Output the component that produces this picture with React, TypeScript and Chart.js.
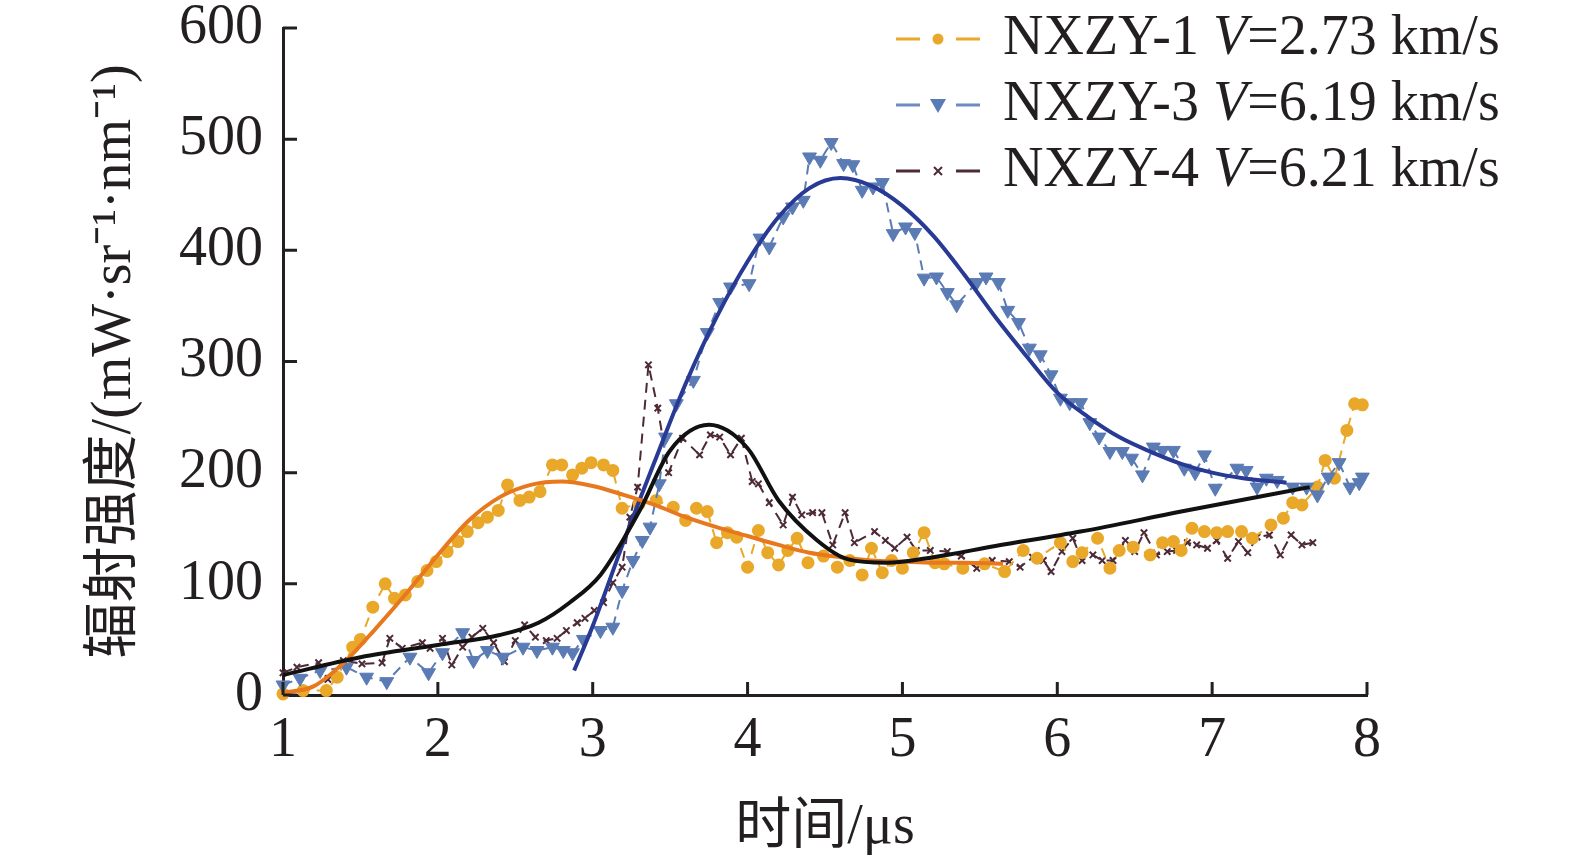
import React, { useRef, useEffect } from "react";
import { Chart, registerables } from "chart.js";

Chart.register(...registerables);

// NXZY-1, V = 2.73 km/s (measured points)
const nxzy1X = [
  1.0, 1.13, 1.28, 1.35, 1.45, 1.5, 1.58, 1.66, 1.72, 1.79, 1.87, 1.93, 1.99, 2.06, 2.13, 2.19, 2.26,
  2.32, 2.39, 2.45, 2.53, 2.59, 2.66, 2.74, 2.8, 2.87, 2.93, 2.99, 3.07, 3.13, 3.19, 3.3, 3.41, 3.52,
  3.6, 3.67, 3.74, 3.8, 3.87, 3.93, 4.0, 4.07, 4.13, 4.2, 4.26, 4.32, 4.39, 4.49, 4.58, 4.66, 4.74,
  4.8, 4.87, 4.93, 5.0, 5.07, 5.14, 5.21, 5.27, 5.39, 5.53, 5.66, 5.78, 5.87, 6.02, 6.1, 6.16, 6.26,
  6.34, 6.4, 6.49, 6.6, 6.68, 6.75, 6.8, 6.87, 6.95, 7.03, 7.1, 7.19, 7.26, 7.38, 7.46, 7.52, 7.58,
  7.68, 7.73, 7.79, 7.87, 7.92, 7.97,
];
const nxzy1Y = [
  1, 4, 4, 16, 43, 50, 79, 100, 87, 90, 102, 112, 120, 129, 138, 147, 155, 160, 166, 189, 175, 178,
  183, 207, 207, 198, 204, 209, 207, 202, 168, 172, 175, 169, 157, 168, 165, 137, 146, 142, 115, 148,
  128, 117, 130, 141, 119, 125, 115, 121, 108, 132, 110, 121, 114, 128, 146, 119, 118, 114, 118, 111,
  130, 123, 137, 120, 128, 141, 114, 130, 133, 126, 137, 138, 130, 150, 147, 146, 147, 147, 141, 153,
  159, 173, 171, 187, 211, 195, 238, 262, 261,
];

// NXZY-3, V = 6.19 km/s (measured points)
const nxzy3X = [
  1.0, 1.11, 1.24, 1.41, 1.54, 1.67, 1.82, 1.94, 2.03, 2.16, 2.23, 2.32, 2.42, 2.55, 2.64, 2.74, 2.81,
  2.87, 2.94, 3.05, 3.13, 3.19, 3.26, 3.32, 3.37, 3.43, 3.47, 3.54, 3.65, 3.74, 3.82, 3.89, 4.01,
  4.08, 4.14, 4.23, 4.29, 4.36, 4.4, 4.47, 4.54, 4.62, 4.68, 4.74, 4.81, 4.87, 4.94, 5.02, 5.08, 5.14,
  5.22, 5.29, 5.35, 5.48, 5.54, 5.62, 5.68, 5.75, 5.82, 5.89, 5.96, 6.02, 6.08, 6.15, 6.21, 6.27,
  6.34, 6.42, 6.48, 6.55, 6.62, 6.68, 6.75, 6.82, 6.89, 6.95, 7.02, 7.16, 7.22, 7.29, 7.35, 7.42,
  7.52, 7.61, 7.68, 7.75, 7.82, 7.89, 7.95, 7.97,
];
const nxzy3Y = [
  9, 15, 22, 25, 16, 12, 34, 20, 38, 56, 31, 40, 34, 43, 40, 43, 40, 38, 50, 58, 61, 94, 121, 139,
  151, 190, 232, 262, 283, 326, 353, 367, 370, 411, 403, 430, 439, 445, 484, 481, 497, 478, 477, 454,
  457, 461, 415, 421, 416, 375, 376, 362, 351, 371, 376, 371, 346, 335, 312, 306, 288, 267, 263, 263,
  245, 232, 219, 219, 213, 198, 223, 220, 220, 204, 200, 216, 186, 204, 202, 187, 195, 193, 187, 187,
  180, 196, 209, 187, 191, 196,
];

// NXZY-4, V = 6.21 km/s (measured points)
const nxzy4X = [
  1.0, 1.09, 1.23, 1.29, 1.39, 1.51, 1.64, 1.69, 1.77, 1.9, 1.95, 2.03, 2.09, 2.16, 2.22, 2.29, 2.36,
  2.43, 2.5, 2.56, 2.63, 2.7, 2.77, 2.83, 2.9, 2.95, 3.01, 3.07, 3.13, 3.19, 3.24, 3.29, 3.36, 3.42,
  3.49, 3.58, 3.69, 3.76, 3.82, 3.89, 3.96, 4.03, 4.07, 4.14, 4.23, 4.29, 4.35, 4.42, 4.48, 4.55,
  4.63, 4.69, 4.82, 4.89, 4.95, 5.03, 5.09, 5.18, 5.29, 5.38, 5.48, 5.58, 5.69, 5.76, 5.84, 5.91,
  5.96, 6.03, 6.1, 6.16, 6.23, 6.29, 6.36, 6.44, 6.5, 6.56, 6.64, 6.71, 6.77, 6.84, 6.9, 6.97, 7.03,
  7.1, 7.17, 7.23, 7.29, 7.37, 7.44, 7.51, 7.58, 7.65,
];
const nxzy4Y = [
  20, 25, 29, 14, 31, 28, 29, 51, 42, 47, 42, 51, 27, 43, 52, 60, 47, 30, 49, 63, 52, 49, 51, 58, 65,
  69, 76, 83, 101, 115, 160, 187, 297, 258, 200, 231, 216, 234, 232, 216, 231, 192, 190, 173, 153,
  178, 162, 164, 164, 135, 164, 137, 147, 139, 132, 142, 130, 130, 129, 125, 114, 121, 120, 115, 124,
  121, 111, 129, 141, 121, 126, 121, 121, 139, 129, 146, 126, 129, 130, 137, 135, 132, 139, 123, 138,
  128, 142, 144, 126, 144, 135, 137,
];

// fitted curves
const fit1X = [1.0, 1.2, 1.4, 1.6, 1.8, 2.0, 2.2, 2.4, 2.6, 2.8, 3.0, 3.2, 3.4, 3.6, 3.8, 4.0, 4.2, 4.4, 4.6, 4.8, 5.0, 5.2, 5.4, 5.65];
const fit1Y = [2, 8, 30, 60, 92, 126, 157, 178, 189, 192, 188, 180, 171, 160, 151, 143, 135, 128, 124, 121, 120, 119, 119, 118];

const fit3X = [2.88, 3.0, 3.2, 3.4, 3.6, 3.8, 4.0, 4.2, 4.4, 4.6, 4.8, 5.0, 5.2, 5.4, 5.6, 5.8, 6.0, 6.2, 6.4, 6.6, 6.8, 7.0, 7.2, 7.48];
const fit3Y = [22, 62, 138, 210, 280, 340, 390, 430, 456, 465, 458, 440, 413, 378, 340, 305, 272, 250, 232, 219, 208, 200, 195, 191];

const fit4X = [1.0, 1.5, 2.0, 2.4, 2.65, 2.85, 3.05, 3.3, 3.5, 3.75, 4.0, 4.2, 4.45, 4.65, 4.9, 5.2, 5.6, 6.15, 6.8, 7.63];
const fit4Y = [18, 34, 45, 54, 65, 83, 108, 165, 220, 243, 222, 175, 139, 122, 119, 124, 134, 147, 165, 187];

const xTicks = [1, 2, 3, 4, 5, 6, 7, 8];
const yTicks = [0, 100, 200, 300, 400, 500, 600];

const legendNames = ["NXZY-1", "NXZY-3", "NXZY-4"];
const legendSpeeds = ["=2.73 km/s", "=6.19 km/s", "=6.21 km/s"];

const ink = "#231f20";
const gold = "#e9a82a";
const orange = "#e8781d";
const steel = "#5b7bb5";
const navy = "#283a94";
const plum = "#4d2a35";
const serif = "'Liberation Serif', 'Times New Roman', serif";
const cjk = "'Liberation Serif', 'Noto Sans CJK SC', serif";
const fontSize = 56;

const toPoints = (xs: number[], ys: number[]) =>
  xs.slice(0, Math.min(xs.length, ys.length)).map((x, i) => ({ x, y: ys[i] }));

// ticks point into the plot, as in the original figure
const inwardTicks = {
  id: "inwardTicks",
  afterDraw(chart: any) {
    const { ctx, chartArea, scales } = chart;
    ctx.save();
    ctx.strokeStyle = ink;
    ctx.lineWidth = 3;
    ctx.beginPath();
    yTicks.forEach((v) => {
      const py = scales.y.getPixelForValue(v);
      ctx.moveTo(chartArea.left, py);
      ctx.lineTo(chartArea.left + 14, py);
    });
    xTicks.forEach((v) => {
      const px = scales.x.getPixelForValue(v);
      ctx.moveTo(px, chartArea.bottom);
      ctx.lineTo(px, chartArea.bottom - 13);
    });
    ctx.stroke();
    ctx.restore();
  },
};

// legend with an italic V, which the built-in legend cannot do
const mixedLegend = {
  id: "mixedLegend",
  afterDraw(chart: any) {
    const ctx = chart.ctx;
    const left = 896;
    const top = 39;
    const gap = 66;
    const lineColors = [gold, "#6f8bc0", plum];
    ctx.save();
    legendNames.forEach((name, i) => {
      const y = top + i * gap;
      const mx = left + 42;
      ctx.strokeStyle = lineColors[i];
      ctx.lineWidth = 3;
      ctx.beginPath();
      ctx.moveTo(left, y);
      ctx.lineTo(left + 24, y);
      ctx.moveTo(left + 60, y);
      ctx.lineTo(left + 84, y);
      ctx.stroke();

      if (i === 0) {
        ctx.fillStyle = gold;
        ctx.beginPath();
        ctx.arc(mx, y, 5.5, 0, Math.PI * 2);
        ctx.fill();
      } else if (i === 1) {
        ctx.fillStyle = steel;
        ctx.beginPath();
        ctx.moveTo(mx - 8, y - 6);
        ctx.lineTo(mx + 8, y - 6);
        ctx.lineTo(mx, y + 8);
        ctx.closePath();
        ctx.fill();
      } else {
        ctx.strokeStyle = plum;
        ctx.lineWidth = 2;
        ctx.beginPath();
        ctx.moveTo(mx - 4, y - 4);
        ctx.lineTo(mx + 4, y + 4);
        ctx.moveTo(mx + 4, y - 4);
        ctx.lineTo(mx - 4, y + 4);
        ctx.stroke();
      }

      let tx = left + 107;
      ctx.fillStyle = ink;
      ctx.textBaseline = "middle";
      ctx.textAlign = "left";
      ctx.font = `${fontSize}px ${serif}`;
      ctx.fillText(name + " ", tx, y);
      tx += ctx.measureText(name + " ").width;
      ctx.font = `italic ${fontSize}px ${serif}`;
      ctx.fillText("V", tx, y);
      tx += ctx.measureText("V").width;
      ctx.font = `${fontSize}px ${serif}`;
      ctx.fillText(legendSpeeds[i], tx, y);
    });
    ctx.restore();
  },
};

const RadianceChart: React.FC = () => {
  const chartRef = useRef<HTMLCanvasElement | null>(null);

  useEffect(() => {
    if (!chartRef.current) return;

    const dashed = [10, 7];
    const config: any = {
      type: "line",
      data: {
        datasets: [
          {
            label: "NXZY-4 fit",
            data: toPoints(fit4X, fit4Y),
            borderColor: "#111111",
            borderWidth: 4,
            pointRadius: 0,
            cubicInterpolationMode: "monotone",
            order: 0,
          },
          {
            label: "NXZY-1 fit",
            data: toPoints(fit1X, fit1Y),
            borderColor: orange,
            borderWidth: 4,
            pointRadius: 0,
            cubicInterpolationMode: "monotone",
            order: 1,
          },
          {
            label: "NXZY-3 fit",
            data: toPoints(fit3X, fit3Y),
            borderColor: navy,
            borderWidth: 4,
            pointRadius: 0,
            cubicInterpolationMode: "monotone",
            order: 2,
          },
          {
            label: "NXZY-3",
            data: toPoints(nxzy3X, nxzy3Y),
            borderColor: steel,
            borderWidth: 2,
            borderDash: dashed,
            pointStyle: "triangle",
            rotation: 180,
            pointRadius: 8,
            pointBackgroundColor: steel,
            pointBorderColor: steel,
            pointBorderWidth: 1,
            order: 3,
            clip: 10,
          },
          {
            label: "NXZY-1",
            data: toPoints(nxzy1X, nxzy1Y),
            borderColor: gold,
            borderWidth: 2,
            borderDash: dashed,
            pointStyle: "circle",
            pointRadius: 5.5,
            pointBackgroundColor: gold,
            pointBorderColor: gold,
            order: 4,
            clip: 10,
          },
          {
            label: "NXZY-4",
            data: toPoints(nxzy4X, nxzy4Y),
            borderColor: plum,
            borderWidth: 2,
            borderDash: dashed,
            pointStyle: "crossRot",
            pointRadius: 4.5,
            pointBorderColor: plum,
            pointBorderWidth: 2,
            order: 5,
            clip: 10,
          },
        ],
      },
      options: {
        animation: false,
        responsive: true,
        maintainAspectRatio: false,
        layout: { padding: { top: 28, right: 208, left: 0, bottom: 0 } },
        plugins: {
          legend: { display: false },
          tooltip: { enabled: false },
        },
        scales: {
          x: {
            type: "linear",
            min: 1,
            max: 8,
            afterBuildTicks: (s: any) => {
              s.ticks = xTicks.map((v) => ({ value: v }));
            },
            afterFit: (s: any) => {
              s.height = 167;
              s.paddingLeft = 0;
              s.paddingRight = 0;
            },
            grid: { display: false, drawTicks: false },
            border: { display: true, color: ink, width: 3 },
            ticks: {
              color: ink,
              font: { family: serif, size: fontSize },
              padding: 13,
              maxRotation: 0,
            },
            title: {
              display: true,
              text: "时间/μs",
              color: ink,
              font: { family: cjk, size: fontSize },
              padding: { top: 0, bottom: 0 },
            },
          },
          y: {
            type: "linear",
            min: 0,
            max: 600,
            afterBuildTicks: (s: any) => {
              s.ticks = yTicks.map((v) => ({ value: v }));
            },
            afterFit: (s: any) => {
              s.width = 283;
              s.paddingTop = 0;
              s.paddingBottom = 0;
            },
            grid: { display: false, drawTicks: false },
            border: { display: true, color: ink, width: 3 },
            ticks: {
              color: ink,
              font: { family: serif, size: fontSize },
              padding: 20,
            },
            title: {
              display: true,
              text: "辐射强度/(mW·sr⁻¹·nm⁻¹)",
              color: ink,
              font: { family: cjk, size: fontSize },
              padding: { top: 82, bottom: 0 },
            },
          },
        },
      },
      plugins: [inwardTicks, mixedLegend],
    };

    const chart = new Chart(chartRef.current.getContext("2d")!, config);
    return () => {
      chart.destroy();
    };
  }, []);

  return (
    <div style={{ position: "fixed", left: 0, top: 0, width: "1575px", height: "862px", background: "#fff" }}>
      <canvas ref={chartRef}></canvas>
    </div>
  );
};

export default function App() {
  return <RadianceChart />;
}
